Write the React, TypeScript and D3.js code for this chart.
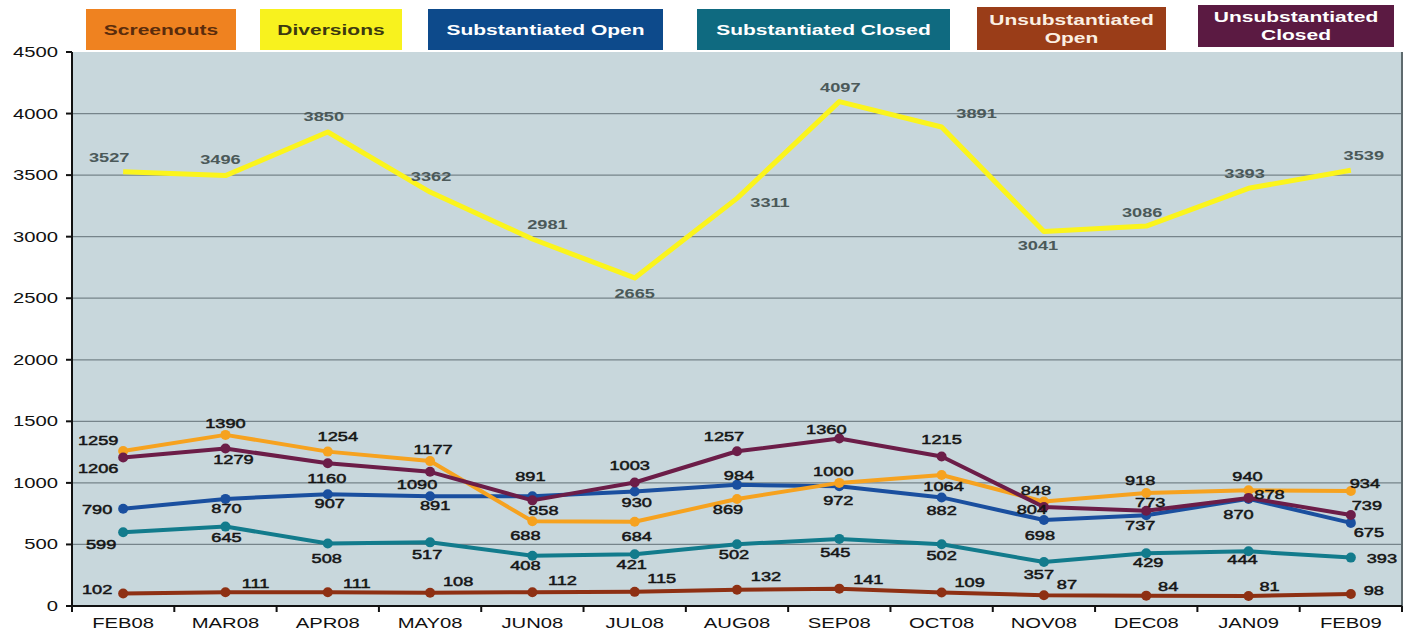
import React from 'react';
import * as d3 from 'd3';

// months on the x axis
const months = ['FEB08', 'MAR08', 'APR08', 'MAY08', 'JUN08', 'JUL08', 'AUG08', 'SEP08', 'OCT08', 'NOV08', 'DEC08', 'JAN09', 'FEB09'];
const yTicks = [0, 500, 1000, 1500, 2000, 2500, 3000, 3500, 4000, 4500];

// series values
const screenouts = [1259, 1390, 1254, 1177, 688, 684, 869, 1000, 1064, 848, 918, 940, 934];
const diversions = [3527, 3496, 3850, 3362, 2981, 2665, 3311, 4097, 3891, 3041, 3086, 3393, 3539];
const substOpen = [790, 870, 907, 891, 891, 930, 984, 972, 882, 698, 737, 870, 675];
const substClosed = [599, 645, 508, 517, 408, 421, 502, 545, 502, 357, 429, 444, 393];
const unsubOpen = [102, 111, 111, 108, 112, 115, 132, 141, 109, 87, 84, 81, 98];
const unsubClosed = [1206, 1279, 1160, 1090, 858, 1003, 1257, 1360, 1215, 804, 773, 878, 739];

// where each value label sits relative to its point [dx, dy]
const screenoutsLbl = [[-25, -11], [0, -12], [10, -16], [3, -12], [-7, 14], [2, 14], [-9, 10], [-6, -12], [2, 11], [-8, -12], [-6, -13], [-1, -14], [14, -8]];
const diversionsLbl = [[-14, -15], [-5, -17], [-4, -16], [1, -16], [15, -15], [0, 15], [33, 4], [1, -15], [35, -14], [-6, 13], [-4, -14], [-4, -15], [13, -15]];
const substOpenLbl = [[-26, 0], [1, 9], [2, 9], [5, 9], [-2, -20], [2, 10], [2, -10], [-1, 14], [0, 13], [-4, 15], [-6, 10], [-10, 15], [18, 9]];
const substClosedLbl = [[-22, 12], [1, 10], [-1, 14], [-3, 12], [-7, 9], [-3, 10], [-3, 10], [-4, 13], [0, 11], [-5, 12], [2, 9], [-6, 8], [31, 0]];
const unsubOpenLbl = [[-26, -4], [30, -9], [29, -9], [28, -12], [30, -12], [27, -14], [29, -14], [29, -10], [28, -11], [23, -11], [22, -10], [21, -10], [23, -4]];
const unsubClosedLbl = [[-25, 10], [8, 10], [-1, 15], [-13, 12], [11, 10], [-5, -18], [-13, -15], [-13, -10], [0, -17], [-12, 2], [4, -9], [21, -4], [16, -10]];

const FONT = "'Liberation Sans', Arial, sans-serif";

const SText = ({ x, y, children, anchor = 'middle', size = 13.5, weight = 'normal', fill = '#151515', sx = 1.35, stroke = 0 }: any) => (
  <text
    transform={`translate(${x},${y}) scale(${sx},1)`}
    textAnchor={anchor}
    dominantBaseline="central"
    fontSize={size}
    fontWeight={weight}
    fill={fill}
    stroke={stroke ? fill : 'none'}
    strokeWidth={stroke}
    fontFamily={FONT}
  >
    {children}
  </text>
);

export default function App() {
  const left = 72, right = 1402, top = 52, bottom = 606;

  const x = d3.scaleBand().domain(months).range([left, right]);
  const cx = (m: string) => (x(m) as number) + x.bandwidth() / 2;
  const y = d3.scaleLinear().domain([0, 4500]).range([bottom, top]);

  const line = d3.line<number>().x((_, i) => cx(months[i])).y(d => y(d));

  const series = [
    { name: 'Diversions', values: diversions, lbl: diversionsLbl, color: '#fbf41c', width: 5, markers: false, text: '#4b5959', bold: true },
    { name: 'Unsubstantiated Open', values: unsubOpen, lbl: unsubOpenLbl, color: '#8e3013', width: 4, markers: true, text: '#151515', bold: false },
    { name: 'Substantiated Closed', values: substClosed, lbl: substClosedLbl, color: '#127b8c', width: 4, markers: true, text: '#151515', bold: false },
    { name: 'Substantiated Open', values: substOpen, lbl: substOpenLbl, color: '#1a4f9f', width: 4, markers: true, text: '#151515', bold: false },
    { name: 'Screenouts', values: screenouts, lbl: screenoutsLbl, color: '#f6a21f', width: 4, markers: true, text: '#151515', bold: false },
    { name: 'Unsubstantiated Closed', values: unsubClosed, lbl: unsubClosedLbl, color: '#6c1d48', width: 4, markers: true, text: '#151515', bold: false },
  ];

  // legend boxes across the top
  const legend = [
    { lines: ['Screenouts'], fill: '#ef8220', text: '#5a2c0c', x: 86, w: 150, y: 9, h: 41 },
    { lines: ['Diversions'], fill: '#f8f21e', text: '#3c3910', x: 260, w: 142, y: 9, h: 41 },
    { lines: ['Substantiated Open'], fill: '#0d4a8b', text: '#ffffff', x: 428, w: 235, y: 9, h: 41 },
    { lines: ['Substantiated Closed'], fill: '#0f6a80', text: '#ffffff', x: 697, w: 253, y: 9, h: 41 },
    { lines: ['Unsubstantiated', 'Open'], fill: '#9a3d18', text: '#fbefe2', x: 977, w: 189, y: 7, h: 43 },
    { lines: ['Unsubstantiated', 'Closed'], fill: '#5b1a42', text: '#ffffff', x: 1198, w: 196, y: 5, h: 42 },
  ];

  const bandEdges = d3.range(months.length + 1).map(i => left + i * x.bandwidth());

  return (
    <div>
      <style>{'body{margin:0;background:#fff}'}</style>
      <svg width={1410} height={634} style={{ display: 'block' }}>
        <rect x={left} y={top} width={right - left} height={bottom - top} fill="#c8d7dc" />
        {yTicks.filter(t => t > 0 && t < 4500).map(t => (
          <line key={t} x1={left} x2={right} y1={y(t)} y2={y(t)} stroke="#76848a" strokeWidth={1.2} />
        ))}
        <line x1={right} x2={right} y1={top} y2={bottom} stroke="#5e6a6e" strokeWidth={2} />

        {series.map(s => (
          <g key={s.name}>
            <path d={line(s.values) as string} fill="none" stroke={s.color} strokeWidth={s.width} strokeLinejoin="round" />
            {s.markers && s.values.map((v, i) => (
              <circle key={i} cx={cx(months[i])} cy={y(v)} r={5} fill={s.color} />
            ))}
          </g>
        ))}

        {series.map(s => (
          <g key={s.name + '-lbl'}>
            {s.values.map((v, i) => (
              <SText
                key={i}
                x={cx(months[i]) + s.lbl[i][0]}
                y={y(v) + s.lbl[i][1]}
                fill={s.text}
                weight={s.bold ? 'bold' : 'normal'}
                stroke={s.bold ? 0 : 0.5}
              >
                {v}
              </SText>
            ))}
          </g>
        ))}

        {/* axes */}
        <line x1={left} x2={left} y1={top} y2={bottom} stroke="#111" strokeWidth={2} />
        <line x1={left} x2={right} y1={bottom} y2={bottom} stroke="#111" strokeWidth={2} />
        {yTicks.map(t => (
          <g key={t}>
            <line x1={left - 6} x2={left} y1={y(t)} y2={y(t)} stroke="#111" strokeWidth={2} />
            <SText x={58} y={y(t)} anchor="end" size={15} fill="#111">{t}</SText>
          </g>
        ))}
        {bandEdges.map((e, i) => (
          <line key={i} x1={e} x2={e} y1={bottom} y2={bottom + 6} stroke="#111" strokeWidth={2} />
        ))}
        {months.map(m => (
          <SText key={m} x={cx(m)} y={623} size={15} fill="#111">{m}</SText>
        ))}

        {legend.map(l => (
          <g key={l.lines.join(' ')}>
            <rect x={l.x} y={l.y} width={l.w} height={l.h} fill={l.fill} />
            {l.lines.map((t, j) => (
              <SText
                key={t}
                x={l.x + l.w / 2}
                y={l.y + l.h / 2 + (l.lines.length > 1 ? (j - 0.5) * 18 : 0)}
                size={15}
                weight="bold"
                fill={l.text}
                sx={1.4}
              >
                {t}
              </SText>
            ))}
          </g>
        ))}
      </svg>
    </div>
  );
}
